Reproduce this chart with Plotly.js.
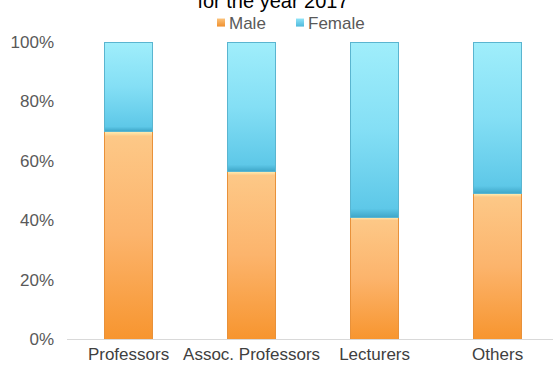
<!DOCTYPE html>
<html>
<head>
<meta charset="utf-8">
<script src="https://cdn.plot.ly/plotly-3.0.1.min.js"></script>
<style>html,body{margin:0;padding:0;background:#fff;}#chart{width:553px;height:367px;}</style>
</head>
<body>
<div id="chart"></div>
<script>
var categories = ["Professors", "Assoc. Professors", "Lecturers", "Others"];
var maleShare = [0.70, 0.565, 0.41, 0.49];
var femaleShare = [0.30, 0.435, 0.59, 0.51];
var seriesNames = ["Male", "Female"];
var titleText = "for the year 2017";

var font = "Liberation Sans, Arial, sans-serif";
var traces = [
  {type: "bar", name: seriesNames[0], x: categories, y: maleShare, width: 0.39,
   marker: {color: "#FBAE5C", line: {color: "#E8913A", width: 1}}},
  {type: "bar", name: seriesNames[1], x: categories, y: femaleShare, width: 0.39,
   marker: {color: "#6ED3EE", line: {color: "#5AB5D0", width: 1}}}
];
var layout = {
  width: 553, height: 367,
  barmode: "stack",
  paper_bgcolor: "#fff", plot_bgcolor: "#fff",
  margin: {l: 67, r: 0, t: 42, b: 28},
  font: {family: font, color: "#595959", size: 17},
  title: {text: titleText, font: {family: font, size: 20, color: "#000"},
          xref: "container", x: 273/553, xanchor: "center", yref: "container", y: 1 - 1/367, yanchor: "middle"},
  showlegend: true,
  legend: {orientation: "h", xref: "container", x: 201/553, xanchor: "left", yref: "container", y: 1 - 23/367, yanchor: "middle",
           font: {family: font, size: 17, color: "#595959"}, entrywidth: 34, entrywidthmode: "pixels", traceorder: "normal"},
  xaxis: {range: [-0.5, 3.45], showgrid: false, showline: true, linecolor: "#D9D9D9", linewidth: 1,
          ticks: "", tickfont: {family: font, size: 17, color: "#404040"}, fixedrange: true},
  yaxis: {range: [0, 1], tickvals: [0, 0.2, 0.4, 0.6, 0.8, 1], tickformat: ".0%", showgrid: false,
          zeroline: false, showline: false, ticks: "", ticklabelstandoff: 12,
          tickfont: {family: font, size: 17, color: "#595959"}, fixedrange: true}
};
Plotly.newPlot("chart", traces, layout, {displayModeBar: false, staticPlot: true}).then(function(gd){
  var svg = gd.querySelector("svg.main-svg");
  var ns = "http://www.w3.org/2000/svg";
  var defs = document.createElementNS(ns, "defs");
  function grad(id, stops){
    var g = document.createElementNS(ns, "linearGradient");
    g.setAttribute("id", id); g.setAttribute("x1","0"); g.setAttribute("y1","0"); g.setAttribute("x2","0"); g.setAttribute("y2","1");
    stops.forEach(function(s){
      var st = document.createElementNS(ns, "stop");
      st.setAttribute("offset", s[0]); st.setAttribute("stop-color", s[1]);
      g.appendChild(st);
    });
    defs.appendChild(g);
  }
  grad("gMale", [["0","#FFF1B8"],["0.025","#FDC887"],["0.5","#FCB46C"],["1","#F7952F"]]);
  grad("gFemale", [["0","#A0EEFB"],["0.5","#84DFF5"],["0.95","#5EC8E8"],["1","#3FA7C9"]]);
  grad("lMale", [["0","#FBC27A"],["1","#F0902E"]]);
  grad("lFemale", [["0","#8FE4F8"],["1","#4FB9DC"]]);
  svg.insertBefore(defs, svg.firstChild);
  var ids = ["gMale", "gFemale"];
  gd.querySelectorAll(".barlayer .trace").forEach(function(t, i){
    t.querySelectorAll("path").forEach(function(p){ p.style.fill = "url(#" + ids[i] + ")"; });
  });
  var lids = ["lMale", "lFemale"];
  gd.querySelectorAll(".legend [clip-path]").forEach(function(el){ el.removeAttribute("clip-path"); });
  var lg = gd.querySelector(".legend");
  if (lg && lg.hasAttribute("clip-path")) lg.removeAttribute("clip-path");
  gd.querySelectorAll(".legend .traces").forEach(function(t, i){
    t.querySelectorAll(".legendpoints path").forEach(function(p){
      p.setAttribute("transform", "translate(20,0) scale(0.67)");
      p.style.fill = "url(#" + lids[i] + ")";
      p.style.strokeWidth = "0";
    });
    var tx = t.querySelector("text.legendtext");
    if (tx) tx.setAttribute("transform", "translate(-12,0)");
  });
});
</script>
</body>
</html>
